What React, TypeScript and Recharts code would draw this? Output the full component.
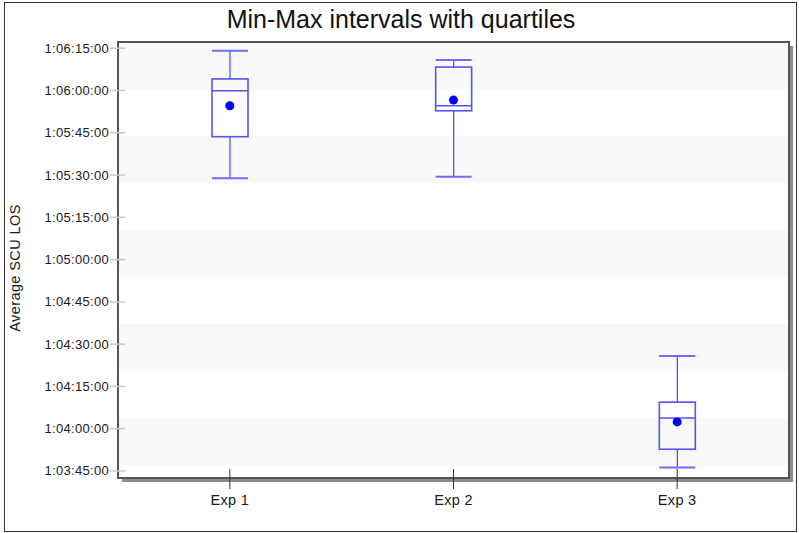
import { ComposedChart, Bar, Scatter, XAxis, YAxis, ReferenceArea } from "recharts"

// values in seconds (1:06:15 -> 3975)
const categories = ["Exp 1", "Exp 2", "Exp 3"]
const minVals = [3928.9, 3929.4, 3826.2]
const q1Vals = [3943.6, 3952.8, 3832.7]
const medianVals = [3959.9, 3954.6, 3843.8]
const q3Vals = [3964.1, 3968.3, 3849.4]
const maxVals = [3974.1, 3970.8, 3865.8]
const meanVals = [3954.6, 3956.6, 3842.4]

const yTicks = [3825, 3840, 3855, 3870, 3885, 3900, 3915, 3930, 3945, 3960, 3975]
const yDomain = [3822.5, 3977.2]
// light grey stripes behind the plot
const bandLow = [3960.5, 3927.2, 3893.8, 3860.4, 3827.0]
const bandHigh = [3977.2, 3943.9, 3910.5, 3877.1, 3843.7]

const data = categories.map((name, i) => ({
  name,
  min: minVals[i],
  q1: q1Vals[i],
  median: medianVals[i],
  q3: q3Vals[i],
  max: maxVals[i],
  mean: meanVals[i],
}))

const FONT = '"Liberation Sans", Arial, sans-serif'
const BLUE = "#5252ff"

const pad = (n: number) => String(n).padStart(2, "0")
function fmtTime(v: number) {
  const t = Math.round(v)
  const h = Math.floor(t / 3600)
  const m = Math.floor((t % 3600) / 60)
  const s = t % 60
  return `${h}:${pad(m)}:${pad(s)}:00`
}

function BoxShape(props: any) {
  const { x, y, width, height, payload } = props
  if (!payload || height == null) return null
  const span = payload.max - payload.min
  const toY = (v: number) => y + (height * (payload.max - v)) / span
  const cx = x + width / 2
  const yMax = toY(payload.max), yQ3 = toY(payload.q3), yMed = toY(payload.median)
  const yQ1 = toY(payload.q1), yMin = toY(payload.min)
  return (
    <g>
      <line x1={cx} x2={cx} y1={yMax} y2={yQ3} stroke={BLUE} strokeWidth={1.3} />
      <line x1={cx} x2={cx} y1={yQ1} y2={yMin} stroke={BLUE} strokeWidth={1.3} />
      <line x1={x} x2={x + width} y1={yMax} y2={yMax} stroke="#6b6bff" strokeWidth={2} />
      <line x1={x} x2={x + width} y1={yMin} y2={yMin} stroke="#6b6bff" strokeWidth={2} />
      <rect x={x} y={yQ3} width={width} height={yQ1 - yQ3} fill="none" stroke={BLUE} strokeWidth={1.6} />
      <line x1={x} x2={x + width} y1={yMed} y2={yMed} stroke={BLUE} strokeWidth={1.6} />
    </g>
  )
}

function YTick({ x, y, payload }: any) {
  return (
    <g>
      <line x1={x - 8} x2={x + 7} y1={y} y2={y} stroke="#c8c8c8" strokeWidth={1.5} />
      <text x={x - 9} y={y} dy={4.5} textAnchor="end" fontSize={13} letterSpacing={0.3} fill="#1a1a1a" fontFamily={FONT}>
        {fmtTime(payload.value)}
      </text>
    </g>
  )
}

function XTick({ x, y, payload }: any) {
  return (
    <g>
      <line x1={x} x2={x} y1={y - 9} y2={y + 11} stroke="#333" strokeWidth={1} />
      <text x={x} y={y + 27} textAnchor="middle" fontSize={14.5} letterSpacing={0.3} fill="#1a1a1a" fontFamily={FONT}>
        {payload.value}
      </text>
    </g>
  )
}

function YLabel({ viewBox }: any) {
  const cy = viewBox.y + viewBox.height / 2 + 8
  return (
    <text x={15} y={cy} dy={5} textAnchor="middle" transform={`rotate(-90, 15, ${cy})`}
      fontSize={14.5} letterSpacing={0.4} fill="#1a1a1a" fontFamily={FONT}>
      Average SCU LOS
    </text>
  )
}

export default function App() {
  return (
    <div style={{ position: "relative", width: 799, height: 533, background: "#fff" }}>
      <style>{"body{margin:0}"}</style>
      <div style={{ position: "absolute", left: 4, top: 2, width: 791, height: 528, border: "1px solid #333" }} />
      <div style={{ position: "absolute", left: 0, top: 5, width: 802, textAlign: "center", fontFamily: FONT, fontSize: 25, color: "#111", lineHeight: "28px" }}>
        Min-Max intervals with quartiles
      </div>
      <div style={{ position: "absolute", left: 0, top: 0 }}>
        <ComposedChart width={799} height={533} data={data} margin={{ top: 42, right: 10, bottom: 0, left: 0 }}>
          <XAxis dataKey="name" height={55} axisLine={false} tickLine={false} tickSize={0} tickMargin={0} tick={<XTick />} interval={0} />
          <YAxis type="number" domain={yDomain} ticks={yTicks} width={118} axisLine={false} tickLine={false}
            tickSize={0} tickMargin={0} tick={<YTick />} allowDataOverflow label={<YLabel />} />
          <ReferenceArea y1={yDomain[0]} y2={yDomain[1]} shape={(p: any) => (
            <g>
              <rect x={p.x + 4} y={p.y + 4} width={p.width} height={p.height} fill="#8c8c8c" />
              <rect x={p.x} y={p.y} width={p.width} height={p.height} fill="#fff" />
            </g>
          )} />
          {bandLow.map((lo, i) => (
            <ReferenceArea key={i} y1={lo} y2={bandHigh[i]} fill="#f9f9f9" fillOpacity={1} stroke="none" />
          ))}
          <ReferenceArea y1={yDomain[0]} y2={yDomain[1]} shape={(p: any) => (
            <rect x={p.x} y={p.y} width={p.width} height={p.height} fill="none" stroke="#555" strokeWidth={2} />
          )} />
          <Bar dataKey={(d: any) => [d.min, d.max]} barSize={36} shape={<BoxShape />} isAnimationActive={false} />
          <Scatter dataKey="mean" fill="#0000ff" isAnimationActive={false}
            shape={(p: any) => <circle cx={p.cx} cy={p.cy} r={4.5} fill="#0000ff" />} />
        </ComposedChart>
      </div>
    </div>
  )
}
